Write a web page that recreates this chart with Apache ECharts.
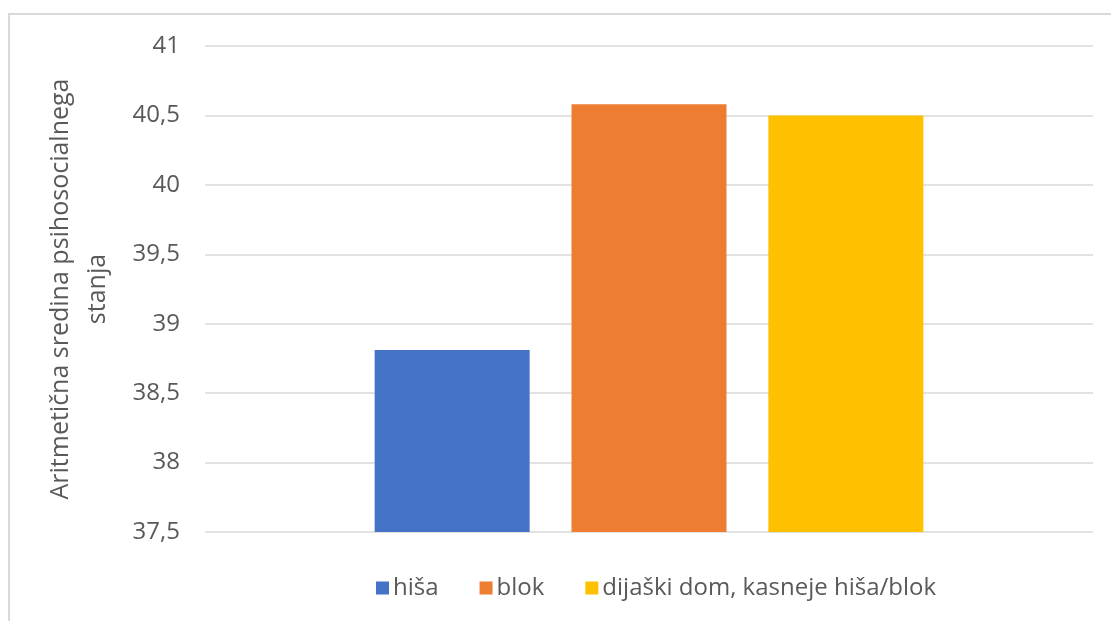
<!DOCTYPE html>
<html><head><meta charset="utf-8">
<script src="https://cdn.jsdelivr.net/npm/echarts@6/dist/echarts.min.js"></script>
<style>
html,body{margin:0;padding:0;background:#fff;}
#frame{position:absolute;left:8px;top:13px;width:1103px;height:608px;border-top:2px solid #d9d9d9;border-left:2px solid #d9d9d9;box-sizing:border-box;}
#c{position:absolute;left:0;top:0;width:1111px;height:621px;}
</style></head>
<body>
<div id="frame"></div>
<div id="c"></div>
<script>
const categories = [''];
const seriesNames = ['hiša', 'blok', 'dijaški dom, kasneje hiša/blok'];
const seriesValues = [38.81, 40.58, 40.50];
const colors = ['#4472c4', '#ed7d31', '#ffc000'];
const yTicks = { min: 37.5, max: 41, interval: 0.5 };
const yTitle = 'Aritmetična sredina psihosocialnega\nstanja';

const font = '"Open Sans", "Noto Sans", sans-serif';
const chart = echarts.init(document.getElementById('c'));
chart.setOption({
  animation: false,
  grid: { left: 205, right: 18, top: 46, bottom: 89, containLabel: false },
  legend: {
    top: 576, left: 376, padding: 0, itemWidth: 13, itemHeight: 13, itemGap: 41,
    icon: 'rect',
    textStyle: { color: '#595959', fontSize: 24, fontFamily: font, padding: [0,0,0,-1] },
    data: seriesNames
  },
  xAxis: {
    type: 'category', data: categories,
    axisLine: { show: false }, axisTick: { show: false }, axisLabel: { show: false }
  },
  yAxis: {
    type: 'value', min: yTicks.min, max: yTicks.max, interval: yTicks.interval,
    name: yTitle, nameLocation: 'middle', nameGap: 89, nameRotate: 90,
    nameTextStyle: { color: '#595959', fontSize: 25, fontFamily: font, lineHeight: 37 },
    axisLine: { show: false }, axisTick: { show: false },
    axisLabel: { color: '#595959', fontSize: 24, fontFamily: font, margin: 25,
      formatter: v => String(v).replace('.', ',') },
    splitLine: { lineStyle: { color: '#d9d9d9', width: 1.5 } }
  },
  series: seriesNames.map((n, i) => ({
    name: n, type: 'bar', data: [seriesValues[i]],
    barWidth: 155, barGap: '27%',
    itemStyle: { color: colors[i] }
  }))
});
</script>
</body></html>
